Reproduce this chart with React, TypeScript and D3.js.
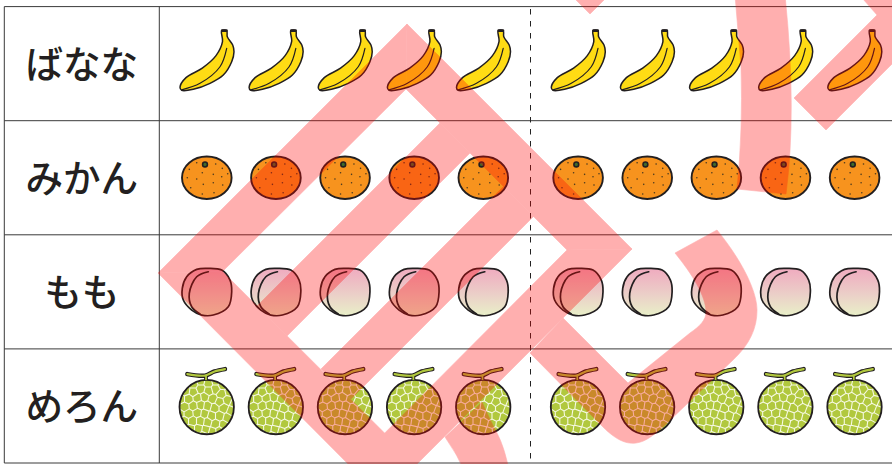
import React, { useEffect, useRef } from "react";
import * as d3 from "d3";

const categories = ["ばなな", "みかん", "もも", "めろん"];
const icons = ["banana", "mikan", "momo", "melon"];
const counts = [10, 10, 10, 10];
const perGroup = 5;

// icon outlines, in icon-local pixels
const bananaBody: [number, number][] = [[15.2, -32.9], [20.2, -32.9], [20.8, -26.9], [26.2, -18.6], [27.5, -11.9], [25.2, -1.9], [16.8, 11.4], [3.5, 19.7], [-13.2, 25.7], [-24.8, 26.7], [-26.5, 23.7], [-20.5, 14], [-4.2, 4.5], [9.5, -8], [16, -22]];
const bananaRib: [number, number][] = [[-24.8, 26.2], [-6.5, 19.7], [13.5, 3.1], [20.2, -15.3]];
const mikanDots: [number, number][] = [[-9.8, -15], [9.2, -13.7], [15.8, -9.4], [21.2, -4], [15.2, -1], [6.8, -3.4], [-4.2, -5], [-17.2, -8.4], [-19.2, 0], [-9.8, 1.3], [-3.2, 6.6], [6.8, 5], [16.2, 7.3], [-15.8, 10], [-4.2, 16.3], [7.5, 15]];
const momoBody: [number, number][] = [[1.8, -23.5], [15.2, -21.8], [23.5, -11.8], [25.2, -0.1], [21.8, 14.9], [6.8, 23.2], [-4.8, 23.2], [-14.8, 18.2], [-23.2, 8.2], [-24.2, -3.5], [-19.8, -15.1], [-9.8, -22.5]];
const momoCrease: [number, number][] = [[1.8, -20.1], [-9.8, -15.1], [-17.2, 1.5], [-14.8, 14.9], [-6.5, 22.2]];
const melonStem: [number, number][] = [[-19.2, -31.9], [-1.5, -30.4], [8, -34.5], [18.5, -36.9]];
const melonNet: [number, number][] = [
    [-13, -22], [-6, -25], [2, -23], [9, -25], [16, -21], [-21, -15], [-13, -14], [-6, -17], [2, -15], [9, -17], [15, -12], [23, -14],
    [-26, -7], [-18, -7], [-9, -8], [-2, -9], [6, -7], [13, -4], [21, -6], [28, -3],
    [-22, 1], [-13, 0], [-6, -1], [1, 0], [8, 2], [17, 2], [25, 5],
    [-27, 8], [-18, 8], [-9, 7], [-2, 8], [5, 10], [13, 10], [21, 12],
    [-22, 15], [-14, 15], [-6, 15], [1, 16], [9, 18], [17, 19],
    [-16, 23], [-8, 23], [-1, 24], [6, 26], [13, 25], [-3, 29]
];

// background watermark strokes
const stamp = [
    "M407,24 L158,273 L222.5,271.5 L406,89 Z",
    "M158,273 L222.5,271.5 L384,432.5 L432,480 L364,480 Z",
    "M407,24 L632,249 L567,250 L406,89 Z",
    "M440,123 L470,153 L287,336 L257,306 Z",
    "M503.5,186.5 L533.5,216.5 L351,399 L321,369 Z",
    "M567,250 L632,249 L401,480 L338,480 Z",
    "M530,353 L603,427 C618,442 628,444 636,443 C646,442 655,434 665,425 L733,360 C750,344 757,328 757,310 C757,290 740,258 717,230 L675,253 C692,274 706,296 706,312 C706,320 700,326 690,333 L628,383 L563,318 Z",
    "M445,437 L482,402 Q490,420 497,433 Q505,448 510,475 L466,475 Q458,455 445,437 Z",
    "M735,-5 L741,67 Q743,130 737,189 L786,194 Q797,110 785,-5 Z",
    "M863,-1 L877,15 L794,98 L826,130 L900,56 L900,-1 Z",
    "M575,-1 L590,14 L605,-1 Z"
];

const INK = "#231f20";

function App() {
    const chart = useRef<SVGSVGElement>(null);

    useEffect(() => {
        const width = 892;
        const height = 464;
        const svg = d3.select(chart.current)
            .attr("width", width)
            .attr("height", height);

        const y = d3.scaleBand<string>().domain(categories).range([6.6, 463]);
        const x = d3.scaleLinear().domain([0, perGroup - 1]).range([206.5, 483]);
        const groupX = d3.scaleLinear().domain([0, 1]).range([0, 371.3]);
        const left = 4.3, labelRight = 159.3, divider = 530.5;

        const defs = svg.append("defs");
        const grad = defs.append("linearGradient").attr("id", "peach").attr("x1", 0).attr("y1", 0).attr("x2", 0).attr("y2", 1);
        grad.append("stop").attr("offset", "0.05").attr("stop-color", "#efaec0");
        grad.append("stop").attr("offset", "0.55").attr("stop-color", "#ebcfc8");
        grad.append("stop").attr("offset", "1").attr("stop-color", "#e9f0c8");

        const closed = d3.line().curve(d3.curveCatmullRomClosed.alpha(0.5));
        const open = d3.line().curve(d3.curveCatmullRom.alpha(0.5));

        // banana
        const banana = defs.append("g").attr("id", "banana");
        banana.append("path").attr("d", closed(bananaBody))
            .attr("fill", "#ffdc14").attr("stroke", INK).attr("stroke-width", 1.5).attr("stroke-linejoin", "round");
        banana.append("path").attr("d", open(bananaRib))
            .attr("fill", "none").attr("stroke", INK).attr("stroke-width", 1.2).attr("stroke-linecap", "round");
        banana.append("line").attr("x1", 15.6).attr("x2", 20).attr("y1", -33).attr("y2", -33)
            .attr("stroke", INK).attr("stroke-width", 2.6).attr("stroke-linecap", "round");

        // mikan
        const mikan = defs.append("g").attr("id", "mikan");
        mikan.append("ellipse").attr("cx", 0.3).attr("cy", 0).attr("rx", 24.8).attr("ry", 21.2)
            .attr("fill", "#f7931e").attr("stroke", INK).attr("stroke-width", 1.9);
        mikan.selectAll("circle").data(mikanDots).enter().append("circle")
            .attr("cx", d => d[0]).attr("cy", d => d[1]).attr("r", 0.8).attr("fill", "#4a3a20");
        mikan.append("circle").attr("cx", -1.5).attr("cy", -13.3).attr("r", 2.4)
            .attr("fill", "#3f6b2a").attr("stroke", INK).attr("stroke-width", 1.6);

        // momo
        const momo = defs.append("g").attr("id", "momo");
        momo.append("path").attr("d", closed(momoBody))
            .attr("fill", "url(#peach)").attr("stroke", INK).attr("stroke-width", 1.7);
        momo.append("path").attr("d", open(momoCrease))
            .attr("fill", "none").attr("stroke", INK).attr("stroke-width", 1.7).attr("stroke-linecap", "round");

        // melon
        const melonR = 27.2;
        defs.append("clipPath").attr("id", "melon-clip")
            .append("circle").attr("cx", 0.2).attr("cy", 1.1).attr("r", melonR);
        const melon = defs.append("g").attr("id", "melon");
        melon.append("circle").attr("cx", 0.2).attr("cy", 1.1).attr("r", melonR).attr("fill", "#b1c83e");
        melon.append("path")
            .attr("d", d3.Delaunay.from(melonNet).voronoi([-32, -32, 32, 34]).render())
            .attr("clip-path", "url(#melon-clip)")
            .attr("fill", "none").attr("stroke", "#f6f9e2").attr("stroke-width", 1.1);
        melon.append("circle").attr("cx", 0.2).attr("cy", 1.1).attr("r", melonR)
            .attr("fill", "none").attr("stroke", INK).attr("stroke-width", 1.8);
        melon.append("line").attr("x1", -0.5).attr("x2", -0.5).attr("y1", -30).attr("y2", -26)
            .attr("stroke", INK).attr("stroke-width", 3.8);
        melon.append("path").attr("d", open(melonStem)).attr("fill", "none")
            .attr("stroke", INK).attr("stroke-width", 4.4).attr("stroke-linecap", "round");
        melon.append("path").attr("d", open(melonStem)).attr("fill", "none")
            .attr("stroke", "#b1c83e").attr("stroke-width", 2.2).attr("stroke-linecap", "round");
        melon.append("line").attr("x1", -0.5).attr("x2", -0.5).attr("y1", -30).attr("y2", -26)
            .attr("stroke", "#b1c83e").attr("stroke-width", 1.8);

        // grid
        const grid = svg.append("g").attr("fill", "none").attr("stroke", "#3a3a3a").attr("stroke-width", 1);
        const rowLines = [y(categories[0])!, ...categories.map(c => y(c)! + y.bandwidth())];
        grid.selectAll(".row-line").data(rowLines).enter().append("line")
            .attr("class", "row-line")
            .attr("x1", left).attr("x2", width)
            .attr("y1", d => d).attr("y2", d => d);
        grid.selectAll(".col-line").data([left, labelRight]).enter().append("line")
            .attr("class", "col-line")
            .attr("x1", d => d).attr("x2", d => d)
            .attr("y1", rowLines[0]).attr("y2", rowLines[rowLines.length - 1]);
        grid.append("line")
            .attr("x1", divider).attr("x2", divider)
            .attr("y1", rowLines[0]).attr("y2", rowLines[rowLines.length - 1])
            .attr("stroke", "#222").attr("stroke-dasharray", "5.5,6.5").attr("stroke-dashoffset", 9.6);

        // labels
        svg.selectAll(".label").data(categories).enter().append("text")
            .attr("class", "label")
            .attr("x", (left + labelRight) / 2)
            .attr("y", d => y(d)! + y.bandwidth() / 2 + 14.5)
            .attr("text-anchor", "middle")
            .attr("font-family", "'Noto Sans CJK JP', sans-serif")
            .attr("font-weight", 500)
            .attr("font-size", 37.6)
            .attr("fill", INK)
            .text(d => d);

        // pictograms
        const rows = svg.selectAll(".row").data(categories).enter().append("g")
            .attr("class", "row")
            .attr("transform", d => `translate(0,${y(d)! + y.bandwidth() / 2})`);
        rows.each(function (_, r) {
            d3.select(this).selectAll("use").data(d3.range(counts[r])).enter().append("use")
                .attr("href", `#${icons[r]}`)
                .attr("x", i => x(i % perGroup) + groupX(Math.floor(i / perGroup)))
                .attr("y", 0);
        });

        // watermark, a thin stroke closes the seams between strokes
        svg.append("g").attr("opacity", 0.31).attr("fill", "#ff0000")
            .attr("stroke", "#ff0000").attr("stroke-width", 0.6)
            .selectAll("path").data(stamp).enter().append("path")
            .attr("d", d => d);

        return () => {
            svg.selectAll("*").remove();
        };
    }, []);

    return (
        <svg ref={chart} style={{ position: "absolute", left: 0, top: 0 }}></svg>
    );
}

export default App;
